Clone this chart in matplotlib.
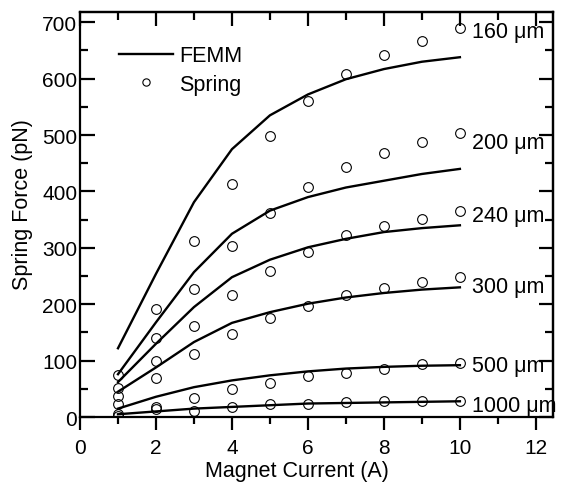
import numpy as np
import matplotlib
matplotlib.use("Agg")
import matplotlib.pyplot as plt
from matplotlib.ticker import MultipleLocator

plt.rcParams['font.family'] = ['Liberation Sans', 'DejaVu Sans']

current = [1, 2, 3, 4, 5, 6, 7, 8, 9, 10]
gaps = ["160", "200", "240", "300", "500", "1000"]

# FEMM simulation (lines)
femm_160 = [122, 254, 381, 475, 535, 572, 599, 617, 630, 638]
femm_200 = [76, 168, 257, 325, 366, 390, 407, 419, 431, 440]
femm_240 = [62, 130, 195, 248, 279, 301, 316, 328, 335, 340]
femm_300 = [45, 88, 133, 167, 186, 201, 212, 220, 226, 230]
femm_500 = [15, 36, 53, 65, 74, 81, 86, 89, 91, 92]
femm_1000 = [5, 10, 15, 18, 21, 24, 25, 26, 27, 28]

# measured spring force (circles)
spring_160 = [75, 192, 313, 413, 499, 561, 608, 642, 667, 689]
spring_200 = [52, 141, 227, 303, 361, 408, 443, 469, 488, 503]
spring_240 = [38, 99, 161, 216, 259, 293, 322, 338, 352, 365]
spring_300 = [24, 70, 111, 147, 176, 197, 217, 229, 239, 249]
spring_500 = [6, 18, 33, 49, 60, 73, 78, 85, 94, 96]
spring_1000 = [2, 14, 10, 17, 23, 23, 27, 29, 29, 29]

label_x = [10.32] * 6
label_y = [684, 487, 357, 232, 92, 21]

femm_all = [femm_160, femm_200, femm_240, femm_300, femm_500, femm_1000]
spring_all = [spring_160, spring_200, spring_240, spring_300, spring_500, spring_1000]

fig = plt.figure(figsize=(5.61, 4.85), dpi=100)
ax = fig.add_axes([0.1426, 0.138, 0.8431, 0.835])

for i, (f, s) in enumerate(zip(femm_all, spring_all)):
    ax.plot(current, f, '-', color='black', lw=1.7, label='FEMM' if i == 0 else None, zorder=3)
    ax.plot(current, s, 'o', mfc='none', mec='black', mew=0.8, ms=7,
            label='Spring' if i == 0 else None, zorder=4)
    ax.text(label_x[i], label_y[i], gaps[i] + " \u03bcm", fontsize=15.5,
            ha='left', va='center', zorder=5)

ax.set_xlim(0, 12.45)
ax.set_ylim(0, 718)
ax.xaxis.set_major_locator(MultipleLocator(2))
ax.xaxis.set_minor_locator(MultipleLocator(1))
ax.yaxis.set_major_locator(MultipleLocator(100))
ax.yaxis.set_minor_locator(MultipleLocator(50))

for sp in ax.spines.values():
    sp.set_linewidth(1.6)

ax.tick_params(axis='x', which='major', direction='out', length=9, width=1.6, labelsize=15, pad=6)
ax.tick_params(axis='x', which='minor', direction='out', length=5, width=1.6)
ax.tick_params(axis='y', which='major', direction='in', length=11, width=1.6, labelsize=15, pad=2)
ax.tick_params(axis='y', which='minor', direction='in', length=6, width=1.6)

top = ax.secondary_xaxis('top')
top.xaxis.set_major_locator(MultipleLocator(2))
top.xaxis.set_minor_locator(MultipleLocator(1))
top.tick_params(which='major', direction='in', length=10, width=1.6, labeltop=False)
top.tick_params(which='minor', direction='in', length=6, width=1.6)
top.spines['top'].set_linewidth(1.6)

right = ax.secondary_yaxis('right')
right.yaxis.set_major_locator(MultipleLocator(100))
right.yaxis.set_minor_locator(MultipleLocator(50))
right.tick_params(which='major', direction='in', length=10, width=1.6, labelright=False)
right.tick_params(which='minor', direction='in', length=6, width=1.6)
right.spines['right'].set_linewidth(1.6)

ax.set_xlabel("Magnet Current (A)", fontsize=15.5)
ax.set_ylabel("Spring Force (pN)", fontsize=15.5)
ax.xaxis.set_label_coords(0.459, -0.105)
ax.yaxis.set_label_coords(-0.10, 0.526)

ax.legend(loc='upper left', bbox_to_anchor=(0.05, 0.955), frameon=False, fontsize=15.5,
          handlelength=2.5, handletextpad=0.3, labelspacing=0.35, borderaxespad=0.3,
          markerscale=0.75)

fig.savefig("out.png", dpi=100)
